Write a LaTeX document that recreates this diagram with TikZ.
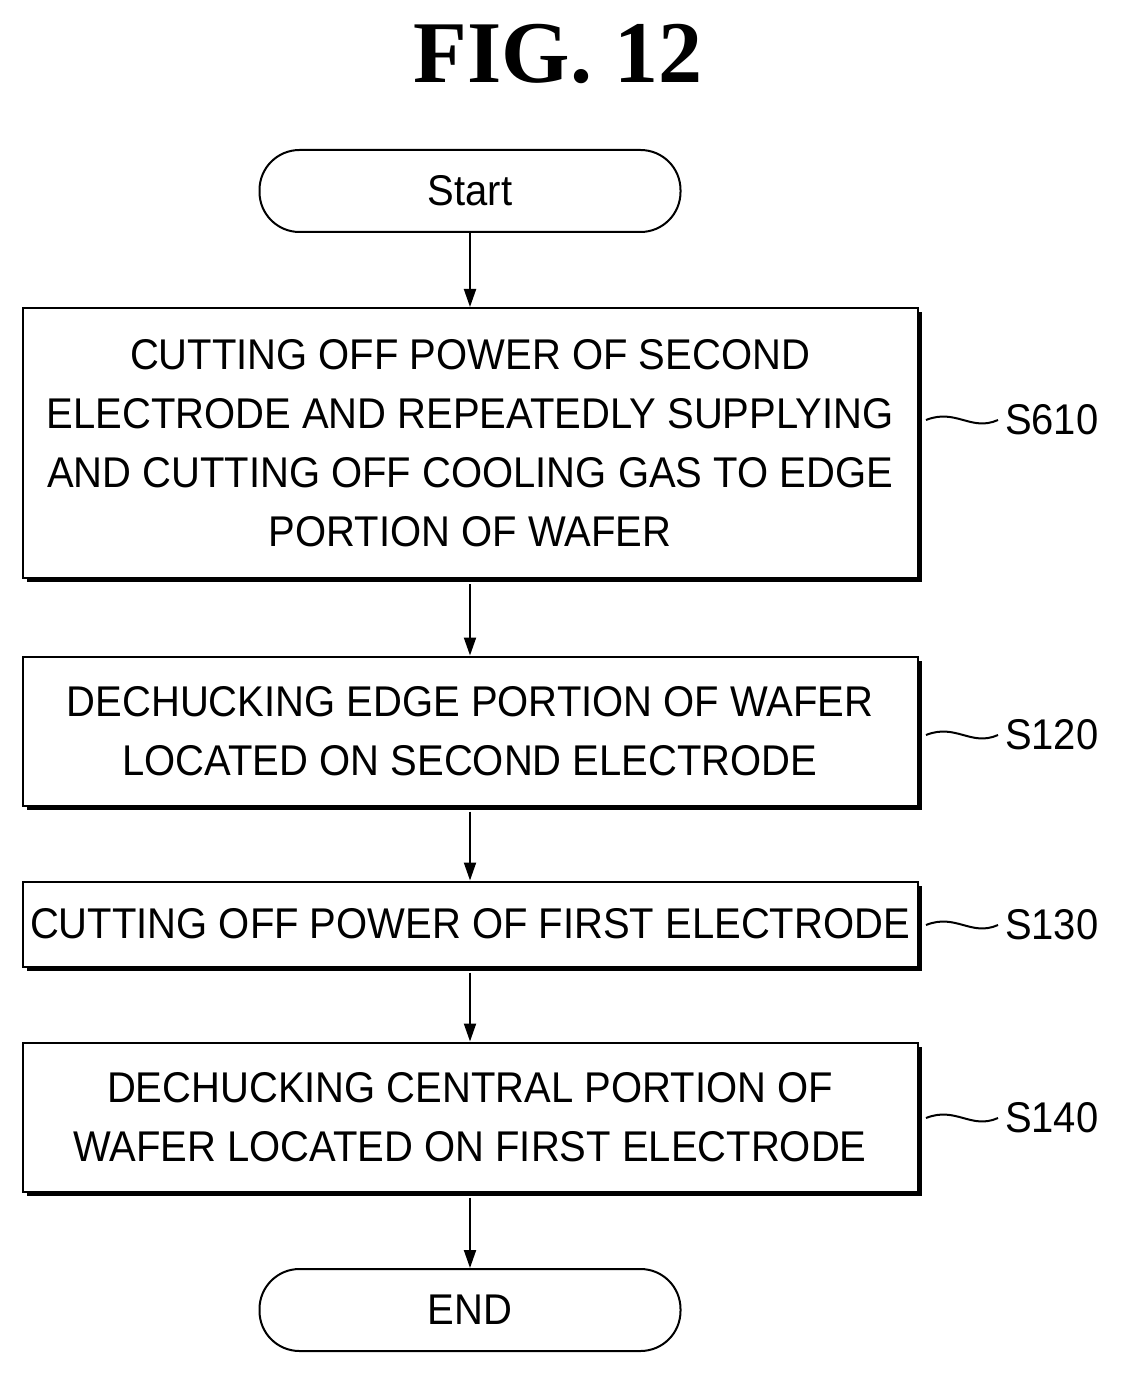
\documentclass[tikz,border=0pt]{standalone}
\usepackage{fontspec}
\setmainfont{Liberation Sans}[FakeStretch=0.93]
\newfontfamily\titlefont{Liberation Serif}
\usetikzlibrary{positioning}
\usetikzlibrary{calc}
\usetikzlibrary{arrows.meta}
\usetikzlibrary{shadows}

\begin{document}
\begin{tikzpicture}[x=0.5pt, y=-0.5pt,
stepbox/.style={
    rectangle,
    draw=black,
    fill=white,
    line width=1pt,
    minimum width=447.5pt,
    align=center,
    font=\fontsize{21.5}{29.5}\selectfont,
    inner sep=0pt, % No inner spacing
    drop shadow={shadow xshift=2pt, shadow yshift=-2pt, fill=black, opacity=1},
},
termbox/.style={
    rectangle,
    rounded corners=20pt,
    draw=black,
    fill=white,
    line width=1pt,
    minimum width=210.5pt,
    minimum height=41pt,
    font=\fontsize{21.5}{24}\selectfont,
},
flow/.style={-{Triangle[length=9pt,width=6pt]}, line width=1pt},
tag/.style={font=\fontsize{21.5}{24}\selectfont, anchor=west},
]
\useasboundingbox (0,0) rectangle (1120,1379);

\node[font=\titlefont\bfseries\fontsize{44}{48}\selectfont] (title) at (558,54) {FIG. 12};

\node[termbox] (start) at (470,191) {Start};
\node[stepbox, minimum height=135pt] (s610) at (470,443)
  {CUTTING OFF POWER OF SECOND\\ELECTRODE AND REPEATEDLY SUPPLYING\\AND CUTTING OFF COOLING GAS TO EDGE\\PORTION OF WAFER};
\node[stepbox, minimum height=74.5pt] (s120) at (470,731)
  {DECHUCKING EDGE PORTION OF WAFER\\LOCATED ON SECOND ELECTRODE};
\node[stepbox, minimum height=42.5pt] (s130) at (470,924)
  {CUTTING OFF POWER OF FIRST ELECTRODE};
\node[stepbox, minimum height=74.5pt] (s140) at (470,1117)
  {DECHUCKING CENTRAL PORTION OF\\WAFER LOCATED ON FIRST ELECTRODE};
\node[termbox] (end) at (470,1310) {END};

\draw[flow] (start) -- (s610);
\draw[flow] ($(s610.south)+(0,5)$) -- (s120);
\draw[flow] ($(s120.south)+(0,5)$) -- (s130);
\draw[flow] ($(s130.south)+(0,5)$) -- (s140);
\draw[flow] ($(s140.south)+(0,5)$) -- (end);

% step labels
\foreach \s/\t/\y in {s610/S610/420, s120/S120/735, s130/S130/925, s140/S140/1118}{
  \node[tag] (l\s) at (998,\y) {\t};
  \coordinate (w\s) at (926,\y);
  \draw[line width=1pt] (w\s) .. controls ($(w\s)+(30,-12)$) and ($(w\s)+(45,12)$) .. (l\s.west);
}

\end{tikzpicture}
\end{document}
